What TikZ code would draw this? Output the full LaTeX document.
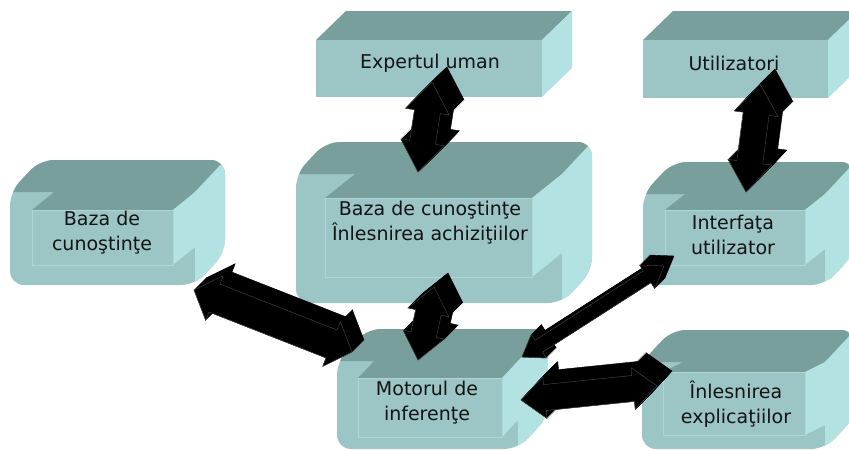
\documentclass[tikz,border=0pt]{standalone}
\usepackage{fontspec}
\setmainfont{DejaVu Sans}
\usetikzlibrary{calc}

\definecolor{facefront}{HTML}{9CC5C5}
\definecolor{facetop}{HTML}{789F9B}
\definecolor{faceside}{HTML}{B2E2E2}
\definecolor{plateedge}{HTML}{AFD6D6}
\definecolor{arrowedge}{HTML}{4A4A4A}

% plain extruded block: front face (x1,y1)-(x2,y2), depth 30 right / 29 up
\newcommand{\flatblock}[4]{%
  \fill[facetop] (#1,#2) -- (#1+30,#2-29) -- (#3+30,#2-29) -- (#3,#2) -- cycle;
  \fill[faceside] (#3,#2) -- (#3+30,#2-29) -- (#3+30,#4-29) -- (#3,#4) -- cycle;
  \fill[facefront] (#1,#2) rectangle (#3,#4);
}

% bevelled block: outline (X1,Y1)-(X2,Y2), raised plate (P1x,P1y)-(P2x,P2y)
\newcommand{\bevelblock}[8]{%
  \fill[facefront, rounded corners=14pt]
    (#1,#2+32) -- (#1+30,#2) -- (#3,#2) -- (#3,#4-32) -- (#3-30,#4) -- (#1,#4) -- cycle;
  \begin{scope}
    \clip[rounded corners=14pt]
      (#1,#2+32) -- (#1+30,#2) -- (#3,#2) -- (#3,#4-32) -- (#3-30,#4) -- (#1,#4) -- cycle;
    \fill[facetop] (#1,#2+32) -- (#1+30,#2) -- (#3,#2) -- (#3-30,#2+32) -- cycle;
    \fill[faceside] (#3-30,#2+32) -- (#3,#2) -- (#3,#4-32) -- (#3-30,#4) -- cycle;
  \end{scope}
  \fill[facetop] (#5,#6) -- (#5+#3-30-#7,#2+32) -- (#3-30,#2+32) -- (#7,#6) -- cycle;
  \fill[faceside] (#7,#6) -- (#3-30,#2+32) -- (#3-30,#8-#6+#2+32) -- (#7,#8) -- cycle;
  \filldraw[fill=facefront, draw=plateedge, line width=0.8pt] (#5,#6) rectangle (#7,#8);
}

% extruded double block arrow between two named points:
% from, to, shaft half-width, head half-width, head length, depth
\newcommand{\blockarrow}[6]{%
  \foreach \k in {#6,...,0} {
    \path[fill=black, draw=black, line width=0.4pt]
      ($(#1)+(\k,-\k)$)
      -- ($(#1)!#5!(#2)!#4!90:(#2)+(\k,-\k)$)
      -- ($(#1)!#5!(#2)!#3!90:(#2)+(\k,-\k)$)
      -- ($(#2)!#5!(#1)!#3!-90:(#1)+(\k,-\k)$)
      -- ($(#2)!#5!(#1)!#4!-90:(#1)+(\k,-\k)$)
      -- ($(#2)+(\k,-\k)$)
      -- ($(#2)!#5!(#1)!#4!90:(#1)+(\k,-\k)$)
      -- ($(#2)!#5!(#1)!#3!90:(#1)+(\k,-\k)$)
      -- ($(#1)!#5!(#2)!#3!-90:(#2)+(\k,-\k)$)
      -- ($(#1)!#5!(#2)!#4!-90:(#2)+(\k,-\k)$)
      -- cycle;
  }
  \draw[arrowedge, line width=0.4pt, line join=round]
      (#1)
      -- ($(#1)!#5!(#2)!#4!90:(#2)$)
      -- ($(#1)!#5!(#2)!#3!90:(#2)$)
      -- ($(#2)!#5!(#1)!#3!-90:(#1)$)
      -- ($(#2)!#5!(#1)!#4!-90:(#1)$)
      -- (#2)
      -- ($(#2)!#5!(#1)!#4!90:(#1)$)
      -- ($(#2)!#5!(#1)!#3!90:(#1)$)
      -- ($(#1)!#5!(#2)!#3!-90:(#2)$)
      -- ($(#1)!#5!(#2)!#4!-90:(#2)$)
      -- cycle;
}

\tikzset{
  lbl/.style={text=black!92, font=\fontsize{19}{25}\selectfont, align=center, inner sep=0pt},
}

\begin{document}
\begin{tikzpicture}[x=1pt, y=-1pt]
  \useasboundingbox (0,0) rectangle (849,450);
  \fill[white] (0,0) rectangle (849,450);

  % blocks
  \flatblock{316}{40}{542}{97}
  \flatblock{643}{40}{828}{98}
  \bevelblock{10}{160}{225}{285}{32}{210}{173}{265}
  \bevelblock{296}{142}{592}{303}{325}{198}{532}{277}
  \bevelblock{337}{329}{548}{449}{358}{378}{502}{437}
  \bevelblock{643}{162}{855}{285}{665}{210}{805}{265}
  \bevelblock{642}{330}{855}{449}{663}{372}{805}{435}

  % arrow end points
  \coordinate (expert-s)  at (432,82);
  \coordinate (kbacq-n)   at (418,172);
  \coordinate (users-s)   at (760,84);
  \coordinate (ui-n)      at (746,192);
  \coordinate (kb-se)     at (194,290);
  \coordinate (engine-nw) at (352,352);
  \coordinate (kbacq-s)   at (434,287);
  \coordinate (engine-n)  at (418,360);
  \coordinate (ui-sw)     at (664,266);
  \coordinate (engine-ne) at (522,357);
  \coordinate (engine-e)  at (521,400);
  \coordinate (expl-w)    at (657,386);

  % connectors
  \blockarrow{expert-s}{kbacq-n}{13pt}{22pt}{30pt}{15}
  \blockarrow{users-s}{ui-n}{13pt}{22pt}{30pt}{15}
  \blockarrow{kb-se}{engine-nw}{15pt}{24pt}{22pt}{12}
  \blockarrow{kbacq-s}{engine-n}{13pt}{21pt}{26pt}{14}
  \blockarrow{ui-sw}{engine-ne}{7pt}{14pt}{20pt}{10}
  \blockarrow{engine-e}{expl-w}{13pt}{21pt}{24pt}{15}

  % labels
  \node[lbl] (expert) at (430,63) {Expertul uman};
  \node[lbl] (users)  at (734,63) {Utilizatori};
  \node[lbl] (kb)     at (102,233) {Baza de\\cunoştinţe};
  \node[lbl] (kbacq)  at (430,223) {Baza de cunoştinţe\\Înlesnirea achiziţiilor};
  \node[lbl] (engine) at (427,403) {Motorul de\\inferenţe};
  \node[lbl] (ui)     at (733,235) {Interfaţa\\utilizator};
  \node[lbl] (expl)   at (736,404) {Înlesnirea\\explicaţiilor};
\end{tikzpicture}
\end{document}
